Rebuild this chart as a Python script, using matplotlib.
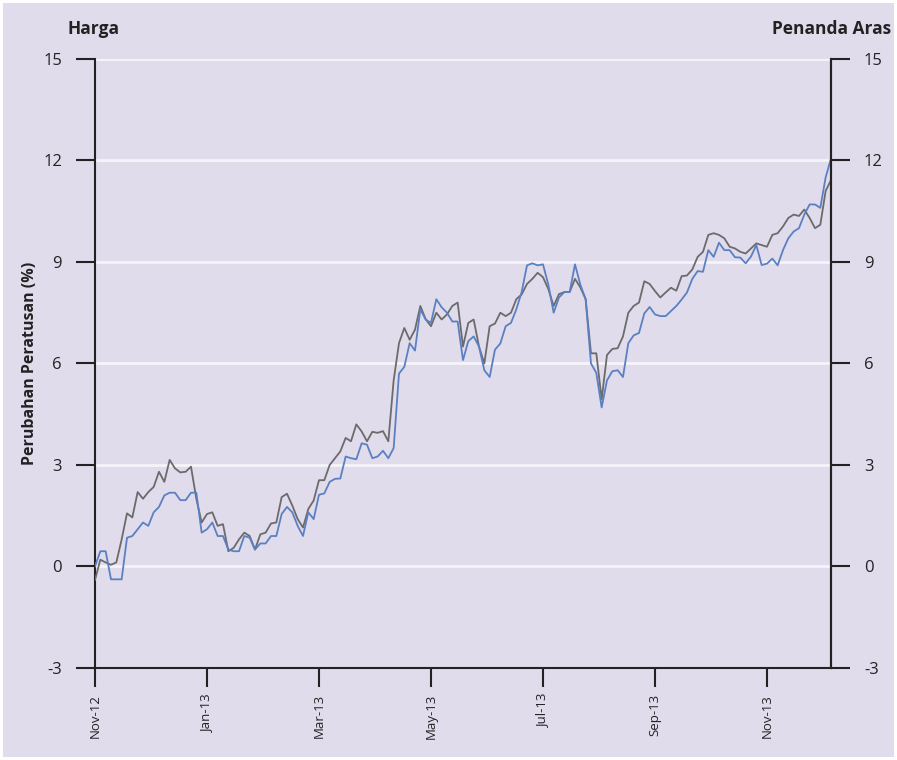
import matplotlib
matplotlib.use("Agg")
import matplotlib.pyplot as plt
import numpy as np

# Percentage change, sampled every 2 trading days from Nov-12
price = [
  -0.4, 0.2, 0.12, 0.05, 0.12, 0.8, 1.57, 1.45, 2.2, 2.0,
  2.2, 2.35, 2.8, 2.5, 3.15, 2.9, 2.78, 2.8, 2.95, 2.0,
  1.3, 1.55, 1.6, 1.2, 1.25, 0.45, 0.55, 0.8, 1.0, 0.9,
  0.5, 0.95, 1.0, 1.27, 1.3, 2.05, 2.15, 1.8, 1.4, 1.15,
  1.7, 1.95, 2.55, 2.55, 3.0, 3.2, 3.4, 3.8, 3.7, 4.2,
  3.99, 3.7, 3.98, 3.95, 4.0, 3.7, 5.5, 6.6, 7.05, 6.7,
  7.0, 7.7, 7.31, 7.1, 7.5, 7.3, 7.45, 7.7, 7.8, 6.5,
  7.2, 7.3, 6.5, 6.0, 7.1, 7.18, 7.5, 7.4, 7.5, 7.9,
  8.04, 8.35, 8.5, 8.68, 8.55, 8.2, 7.7, 8.05, 8.11, 8.11,
  8.5, 8.25, 7.9, 6.3, 6.3, 4.94, 6.25, 6.43, 6.45, 6.8,
  7.5, 7.7, 7.8, 8.43, 8.35, 8.14, 7.95, 8.1, 8.24, 8.15,
  8.58, 8.6, 8.78, 9.15, 9.3, 9.8, 9.85, 9.8, 9.7, 9.45,
  9.4, 9.3, 9.25, 9.4, 9.55, 9.5, 9.45, 9.8, 9.85, 10.05,
  10.3, 10.4, 10.36, 10.55, 10.3, 10.0, 10.1, 11.1, 11.42,
]
benchmark = [
  0.0, 0.45, 0.45, -0.38, -0.38, -0.38, 0.85, 0.9, 1.1, 1.3,
  1.2, 1.6, 1.76, 2.1, 2.18, 2.18, 1.96, 1.96, 2.18, 2.18,
  1.0, 1.1, 1.3, 0.9, 0.9, 0.5, 0.45, 0.45, 0.9, 0.85,
  0.5, 0.68, 0.68, 0.9, 0.9, 1.55, 1.76, 1.6, 1.2, 0.9,
  1.6, 1.4, 2.12, 2.16, 2.5, 2.59, 2.6, 3.25, 3.2, 3.17,
  3.64, 3.6, 3.2, 3.25, 3.42, 3.2, 3.5, 5.7, 5.9, 6.6,
  6.38, 7.6, 7.3, 7.2, 7.9, 7.66, 7.5, 7.24, 7.24, 6.1,
  6.66, 6.8, 6.5, 5.8, 5.6, 6.41, 6.59, 7.1, 7.2, 7.6,
  8.11, 8.9, 8.96, 8.9, 8.93, 8.33, 7.5, 7.95, 8.11, 8.11,
  8.93, 8.33, 7.9, 6.0, 5.72, 4.7, 5.5, 5.77, 5.8, 5.6,
  6.6, 6.83, 6.9, 7.48, 7.67, 7.45, 7.4, 7.4, 7.55, 7.7,
  7.89, 8.1, 8.5, 8.73, 8.71, 9.35, 9.15, 9.57, 9.35, 9.35,
  9.14, 9.13, 8.96, 9.16, 9.5, 8.91, 8.95, 9.1, 8.9, 9.35,
  9.7, 9.9, 10.0, 10.4, 10.7, 10.7, 10.6, 11.5, 12.06,
]
month_labels = ["Nov-12", "Jan-13", "Mar-13", "May-13", "Jul-13", "Sep-13", "Nov-13"]
y_ticks = [-3, 0, 3, 6, 9, 12, 15]

TICK_STEP = 21  # ~2 months of samples
BG = "#e0dcec"
BLUE = "#5b80c2"
GRAY = "#6b6b6b"
INK = "#222222"

plt.rcParams["font.family"] = ["Open Sans", "DejaVu Sans"]

fig = plt.figure(figsize=(8.97, 7.6), dpi=100, facecolor=BG)
fig.patch.set_edgecolor("white")
fig.patch.set_linewidth(4)
ax = fig.add_axes([0.1059, 0.1211, 0.8205, 0.8013], facecolor=BG)

ax.plot(np.arange(len(price)), price, color=GRAY, lw=1.3, zorder=3)
ax.plot(np.arange(len(benchmark)), benchmark, color=BLUE, lw=1.3, zorder=4)

ax.set_xlim(0, len(price) - 1)
ax.set_ylim(-3, 15)
ax.set_yticks(y_ticks)
ax.set_yticklabels([str(t) for t in y_ticks], fontsize=12, color=INK)
ax.set_xticks([i * TICK_STEP for i in range(len(month_labels))])
ax.set_xticklabels(month_labels, rotation=90, fontsize=9.5, color=INK)

for t in y_ticks[1:]:
  ax.axhline(t, color="#f6f4fa", lw=2.0, zorder=1)

ax.spines["top"].set_visible(False)
for side in ["left", "right", "bottom"]:
  ax.spines[side].set_linewidth(1.5)
  ax.spines[side].set_color(INK)
ax.tick_params(axis="y", length=13.7, width=1.5, pad=10, color=INK)
ax.tick_params(axis="x", length=13.7, width=1.5, pad=5, color=INK)

ax2 = ax.twinx()
ax2.set_ylim(-3, 15)
ax2.set_yticks(y_ticks)
ax2.set_yticklabels([str(t) for t in y_ticks], fontsize=12, color=INK)
ax2.tick_params(axis="y", length=13.7, width=1.5, pad=10, color=INK)
for side in ["top", "left", "bottom"]:
  ax2.spines[side].set_visible(False)
ax2.spines["right"].set_linewidth(1.5)
ax2.spines["right"].set_color(INK)

ax.set_ylabel("Perubahan Peratusan (%)", fontsize=11.5, fontweight="bold", color=INK)
ax.yaxis.set_label_coords(-0.077, 0.5)

fig.text(0.075, 0.962, "Harga", fontsize=12.5, fontweight="bold",
         color=INK, ha="left", va="center")
fig.text(0.993, 0.962, "Penanda Aras", fontsize=12.5, fontweight="bold",
         color=INK, ha="right", va="center")

fig.savefig("out.png", dpi=100, facecolor=BG, edgecolor="white")
